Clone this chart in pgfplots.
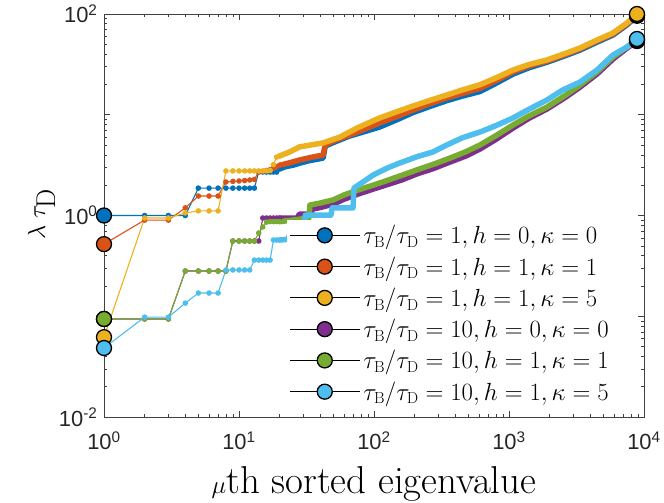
\documentclass[border=0pt]{standalone}
\usepackage{fontspec}
\usepackage{pgfplots}
\pgfplotsset{compat=1.18}
\newfontfamily\ticksf{Liberation Sans}

\definecolor{mBlue}{rgb}{0,0.447,0.741}
\definecolor{mOrange}{rgb}{0.85,0.325,0.098}
\definecolor{mYellow}{rgb}{0.929,0.694,0.125}
\definecolor{mPurple}{rgb}{0.494,0.184,0.556}
\definecolor{mGreen}{rgb}{0.466,0.674,0.188}
\definecolor{mCyan}{rgb}{0.301,0.745,0.933}

\pgfplotsset{
  band/.style={line width=5.5bp, line cap=round, line join=round, no marks, forget plot},
  disc/.style={line width=1.1bp, mark=*, mark size=2.2bp, forget plot},
  ends/.style={only marks, mark=*, mark size=7.5bp,
    mark options={draw=black, line width=1.3bp, fill=#1}, forget plot},
  legimg/.style={black, line width=1bp, mark=*, mark size=7.5bp,
    mark options={draw=black, line width=1.3bp, fill=#1}},
}

\begin{document}
\begin{tikzpicture}
\useasboundingbox (-104bp,-86bp) rectangle (560bp,417bp);
\begin{axis}[
  at={(0,0)}, anchor=south west,
  scale only axis, width=540bp, height=403bp,
  xmode=log, ymode=log,
  xmin=1, xmax=10000, ymin=0.01, ymax=100,
  clip=false,
  axis line style={black!75, line width=0.8bp},
  every tick/.style={black!75, line width=0.6bp},
  major tick length=6bp, minor tick length=3.5bp,
  xtick={1,10,100,1000,10000},
  xticklabels={10\textsuperscript{0},10\textsuperscript{1},10\textsuperscript{2},10\textsuperscript{3},10\textsuperscript{4}},
  ytick={0.01,0.1,1,10,100},
  yticklabels={10\textsuperscript{-2},,10\textsuperscript{0},,10\textsuperscript{2}},
  tick label style={font=\ticksf\fontsize{22}{22}\selectfont, text=black!85},
  xticklabel style={yshift=-11bp},
  yticklabel style={xshift=-3bp},
  xlabel={$\mu$th sorted eigenvalue},
  ylabel={$\lambda\;\tau_{\mathrm{D}}$},
  label style={font=\fontsize{39}{44}\selectfont},
  xlabel style={at={(axis description cs:0.5,0)}, anchor=base, yshift=-76bp},
  ylabel style={at={(axis description cs:-0.109,0.503)}, anchor=base},
  legend image code/.code={\draw[#1, mark repeat=2, mark phase=2]
    plot coordinates {(0bp,0bp) (35bp,0bp) (70bp,0bp)};},
  legend cell align=left,
  legend style={at={(0.339,0.489)}, anchor=north west, draw=none, fill=white,
    font=\fontsize{23}{23}\selectfont, inner sep=2bp, row sep=4.8bp,
    nodes={inner sep=3.2bp}},
]

% tau_B/tau_D = 1, h = 0, kappa = 0
\addplot[band, mBlue] coordinates {
 (20,2.9)(22,3.05)(25,3.15)(28,3.3)(33,3.5)(38,3.62)(42,3.72)(43.5,4.9)(50,5.3)
 (66,6.15)(85,6.8)(110,7.55)(150,9.0)(194,10.5)(260,12.1)(346,13.8)(450,15.3)
 (610,17.0)(800,20.5)(1070,25.3)(1400,29.2)(1910,33.2)(2600,38.5)(3355,43.8)
 (4490,52.6)(5890,61.8)(7480,78)(8870,96)};
\addplot[disc, mBlue] coordinates {
 (1,1.0)(2,1.0)(3,1.0)(4,1.0)(5,1.87)(6,1.87)(7,1.87)(8,1.87)(9,1.87)(10,1.87)
 (11,1.87)(12,1.87)(13,1.87)(14,2.70)(15,2.70)(16,2.70)(17,2.70)(18,2.70)(19,2.70)(20,2.9)};
\addplot[ends=mBlue] coordinates {(1,1.0)(8870,96)};

% tau_B/tau_D = 1, h = 1, kappa = 1
\addplot[band, mOrange] coordinates {
 (20,3.15)(24,3.35)(28,3.55)(35,3.8)(42,3.98)(43.5,5.0)(50,5.5)(66,6.3)(85,7.2)
 (110,8.28)(150,9.7)(194,11.1)(260,12.9)(346,14.7)(450,16.3)(610,18.3)(800,21.8)
 (1070,26.6)(1400,30.5)(1910,34.1)(2600,39.5)(3355,45.0)(4490,54.0)(5890,63.2)
 (7480,79.6)(8870,97.7)};
\addplot[disc, mOrange] coordinates {
 (1,0.52)(2,0.90)(3,0.90)(4,1.19)(5,1.56)(6,1.56)(7,1.56)(8,2.15)(9,2.18)(10,2.2)
 (11,2.22)(12,2.25)(13,2.28)(14,2.72)(15,2.75)(16,2.8)(17,2.85)(18,2.95)(19,3.05)(20,3.15)};
\addplot[ends=mOrange] coordinates {(1,0.52)(8870,97.7)};

% tau_B/tau_D = 1, h = 1, kappa = 5
\addplot[band, mYellow] coordinates {
 (20,3.9)(24,4.3)(28,4.79)(35,5.05)(42,5.25)(56,6.01)(75,7.39)(110,9.29)(150,10.8)
 (194,12.2)(260,13.9)(346,15.7)(450,17.6)(610,19.9)(800,23.2)(1070,27.8)(1400,31.5)
 (1910,35.0)(2600,40.5)(3355,46.0)(4490,55.2)(5890,64.8)(7480,81.4)(8870,100)};
\addplot[disc, mYellow] coordinates {
 (1,0.062)(2,0.944)(3,0.944)(4,1.06)(5,1.11)(6,1.11)(7,1.11)(8,2.77)(9,2.77)(10,2.77)
 (11,2.77)(12,2.77)(13,2.77)(14,2.77)(15,2.77)(16,2.77)(17,2.8)(18,3.2)(19,3.8)(20,3.9)};
\addplot[ends=mYellow] coordinates {(1,0.062)(8870,100)};

% tau_B/tau_D = 10, h = 0, kappa = 0
\addplot[band, mPurple] coordinates {
 (20,0.944)(27,0.944)(28,1.03)(34,1.03)(35,1.16)(40,1.2)(50,1.30)(60,1.45)(76,1.63)
 (95,1.8)(116,1.96)(160,2.25)(207,2.58)(280,2.95)(367,3.40)(480,3.9)(610,4.57)
 (800,5.7)(1070,7.37)(1400,9.2)(1910,11.4)(2600,14.8)(3355,18.8)(4490,25.4)
 (5890,35.7)(7480,45.8)(8870,53.9)};
\addplot[disc, mPurple] coordinates {
 (1,0.094)(2,0.094)(3,0.094)(4,0.281)(5,0.281)(6,0.281)(7,0.281)(8,0.281)(9,0.558)
 (10,0.558)(11,0.558)(12,0.558)(13,0.558)(14,0.558)(15,0.944)(16,0.944)(17,0.944)
 (18,0.944)(19,0.944)(20,0.944)};
\addplot[ends=mPurple] coordinates {(1,0.094)(8870,53.9)};

% tau_B/tau_D = 10, h = 1, kappa = 1
\addplot[band, mGreen] coordinates {
 (20,0.87)(25,0.9)(30,0.93)(33,0.95)(33.5,1.27)(40,1.33)(50,1.43)(60,1.6)(76,1.79)
 (95,1.97)(116,2.15)(160,2.5)(207,2.83)(280,3.25)(367,3.72)(480,4.3)(610,5.01)
 (800,6.2)(1070,7.91)(1400,9.7)(1910,11.9)(2600,15.5)(3355,19.7)(4490,26.6)
 (5890,37.4)(7480,47.0)(8870,55.2)};
\addplot[disc, mGreen] coordinates {
 (1,0.094)(2,0.094)(3,0.094)(4,0.281)(5,0.281)(6,0.281)(7,0.281)(8,0.281)(9,0.558)
 (10,0.558)(11,0.558)(12,0.558)(13,0.558)(14,0.67)(15,0.77)(16,0.86)(17,0.87)
 (18,0.87)(19,0.87)(20,0.87)};
\addplot[ends=mGreen] coordinates {(1,0.094)(8870,55.2)};

% tau_B/tau_D = 10, h = 1, kappa = 5
\addplot[band, mCyan] coordinates {
 (20,0.571)(23,0.58)(24,0.67)(30,0.67)(31,1.01)(48,1.01)(49,1.19)(70,1.19)(71,1.87)
 (85,2.2)(98.5,2.52)(125,2.95)(155,3.32)(210,3.85)(273,4.27)(346,5.01)(450,5.9)
 (610,6.74)(800,7.8)(1070,9.29)(1400,11.3)(1910,14.0)(2500,17.6)(3355,21.1)
 (4490,27.8)(5890,39.2)(7480,47.0)(8870,56.5)};
\addplot[disc, mCyan] coordinates {
 (1,0.0484)(2,0.098)(3,0.098)(4,0.135)(5,0.170)(6,0.170)(7,0.170)(8,0.288)(9,0.288)
 (10,0.288)(11,0.288)(12,0.288)(13,0.361)(14,0.361)(15,0.361)(16,0.361)(17,0.361)
 (18,0.571)(19,0.571)(20,0.571)};
\addplot[ends=mCyan] coordinates {(1,0.0484)(8870,56.5)};

\addlegendimage{legimg=mBlue}
\addlegendentry{$\tau_{\mathrm{B}}/\tau_{\mathrm{D}}=1, h=0, \kappa=0$}
\addlegendimage{legimg=mOrange}
\addlegendentry{$\tau_{\mathrm{B}}/\tau_{\mathrm{D}}=1, h=1, \kappa=1$}
\addlegendimage{legimg=mYellow}
\addlegendentry{$\tau_{\mathrm{B}}/\tau_{\mathrm{D}}=1, h=1, \kappa=5$}
\addlegendimage{legimg=mPurple}
\addlegendentry{$\tau_{\mathrm{B}}/\tau_{\mathrm{D}}=10, h=0, \kappa=0$}
\addlegendimage{legimg=mGreen}
\addlegendentry{$\tau_{\mathrm{B}}/\tau_{\mathrm{D}}=10, h=1, \kappa=1$}
\addlegendimage{legimg=mCyan}
\addlegendentry{$\tau_{\mathrm{B}}/\tau_{\mathrm{D}}=10, h=1, \kappa=5$}
\end{axis}
\end{tikzpicture}
\end{document}
